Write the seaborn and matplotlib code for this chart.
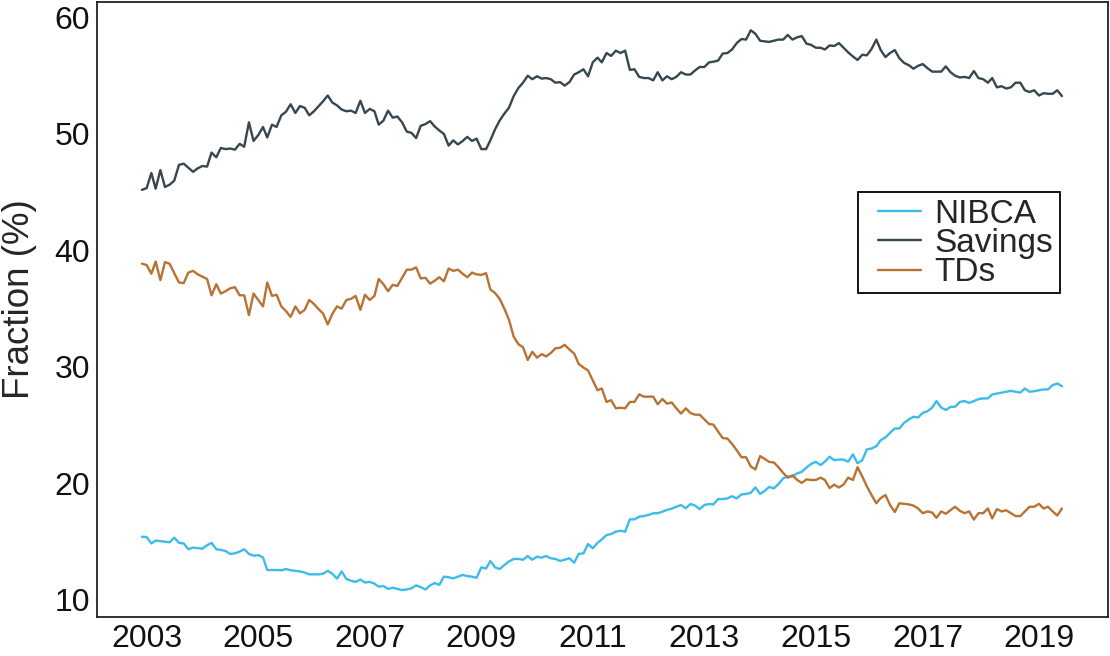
"""
NIBCA / Savings / TDs 비중 추이 (월별)
"""

import pandas as pd
import matplotlib
matplotlib.use('Agg')
import matplotlib.pyplot as plt
import matplotlib.dates as mdates
from matplotlib.patches import Rectangle
import seaborn as sns

# 데이터 (2002-12 ~ 2019-06, 월별, %)
start_month = '2002-12-01'

nibca = [15.43, 15.4, 14.85, 15.1, 15.05, 15.0, 14.95, 15.35, 14.9, 14.85,
         14.35, 14.5, 14.45, 14.4, 14.7, 14.9, 14.35, 14.3, 14.2, 13.95,
         14.0, 14.15, 14.35, 13.95, 13.8, 13.85, 13.65, 12.57, 12.57, 12.57,
         12.55, 12.65, 12.55, 12.5, 12.45, 12.35, 12.2, 12.2, 12.2, 12.25,
         12.5, 12.25, 11.83, 12.45, 11.8, 11.65, 11.55, 11.75, 11.5, 11.55,
         11.4, 11.14, 11.2, 10.95, 11.05, 10.95, 10.85, 10.9, 11.0, 11.25,
         11.1, 10.9, 11.25, 11.45, 11.3, 12.0, 11.95, 11.85, 12.0, 12.15,
         12.05, 12.0, 11.9,
         12.8, 12.7, 13.34, 12.8, 12.65, 13.0, 13.3, 13.52, 13.52, 13.45,
         13.77, 13.45, 13.72, 13.63, 13.77, 13.58, 13.52, 13.35, 13.45, 13.58,
         13.2, 13.95, 14.0, 14.8, 14.43, 14.9, 15.2, 15.57, 15.66, 15.86,
         15.94, 15.86, 16.92, 16.92, 17.15, 17.2, 17.3, 17.44, 17.44, 17.58,
         17.73, 17.84, 18.0, 18.15, 17.87, 18.24, 18.1, 17.8, 18.15, 18.24,
         18.2, 18.66, 18.66, 18.72, 18.9, 18.72, 19.06, 19.1, 19.2, 19.66,
         19.1, 19.37, 19.7, 19.58, 19.95, 20.44, 20.6, 20.6, 20.87, 21.0,
         21.38, 21.67, 21.86, 21.58, 21.87, 22.3, 22.0, 22.05,
         22.05, 21.87, 22.5, 21.73, 22.0, 22.92, 23.0, 23.2, 23.72, 23.95,
         24.35, 24.72, 24.72, 25.2, 25.5, 25.72, 25.67, 26.06, 26.2, 26.52,
         27.07, 26.52, 26.3, 26.58, 26.58, 27.0, 27.07, 26.92, 27.07, 27.24,
         27.3, 27.3, 27.64, 27.72, 27.8, 27.87, 27.95, 27.87, 27.8, 28.15,
         27.87, 27.92, 28.0, 28.07, 28.07, 28.44, 28.58, 28.35]

savings = [45.2, 45.35, 46.65, 45.3, 46.9, 45.45, 45.65, 46.0, 47.35, 47.45,
           47.1, 46.75, 47.05, 47.25, 47.2, 48.4, 48.0, 48.8, 48.7, 48.75,
           48.65, 49.15, 48.9, 51.0, 49.4, 49.9, 50.6, 49.7, 50.8, 50.6,
           51.6, 51.9, 52.55, 51.8, 52.4, 52.25, 51.6, 51.95, 52.4, 52.8,
           53.3, 52.7, 52.45, 52.1, 51.95, 52.0, 51.8, 52.85, 51.8, 52.15,
           51.95, 50.8, 51.15, 52.0, 51.4, 51.5, 51.0, 50.2, 50.1, 49.65,
           50.7, 50.85, 51.1, 50.65, 50.3, 50.0, 49.0, 49.45, 49.1, 49.4,
           49.75, 49.4, 49.6,
           48.7, 48.7, 49.45, 50.4, 51.15, 51.75, 52.25, 53.25, 53.95, 54.4,
           55.0, 54.7, 54.95, 54.75, 54.8, 54.7, 54.4, 54.45, 54.15, 54.45,
           55.1, 55.3, 55.55, 54.95, 56.15, 56.55, 56.15, 56.95, 56.7, 57.15,
           56.95, 57.15, 55.5, 55.55, 54.9, 54.8, 54.8, 54.6, 55.3, 54.6,
           54.95, 54.7, 54.9, 55.3, 55.1, 55.1, 55.45, 55.75, 55.75, 56.15,
           56.2, 56.3, 56.9, 56.95, 57.25, 57.8, 58.15, 58.1, 58.9, 58.6,
           58.0, 57.95, 57.9, 58.0, 58.1, 58.1, 58.5, 58.1, 58.3, 58.4,
           57.75, 57.65, 57.4, 57.4, 57.25, 57.6, 57.55, 57.8,
           57.4, 57.0, 56.65, 56.35, 56.8, 56.75, 57.3, 58.1, 57.2, 56.6,
           56.95, 57.2, 56.5, 56.1, 55.9, 55.6, 55.85, 56.0, 55.65, 55.35,
           55.35, 55.35, 55.8, 55.3, 55.0, 54.85, 54.9, 54.8, 55.4, 54.8,
           54.7, 54.4, 54.8, 54.0, 54.1, 53.9, 54.0, 54.4, 54.4, 53.75,
           53.6, 53.75, 53.3, 53.5, 53.45, 53.45, 53.75, 53.25]

tds = [38.87, 38.75, 38.0, 39.05, 37.45, 39.0, 38.85, 38.05, 37.25, 37.2,
       38.1, 38.25, 37.95, 37.75, 37.55, 36.15, 37.1, 36.3, 36.5, 36.75,
       36.85, 36.15, 36.15, 34.45, 36.3, 35.75, 35.2, 37.25, 36.1, 36.2,
       35.2, 34.8, 34.3, 35.2, 34.6, 34.9, 35.75, 35.4, 34.95, 34.6,
       33.65, 34.55, 35.2, 35.0, 35.75, 35.85, 36.1, 34.9, 36.2, 35.75,
       36.1, 37.55, 37.1, 36.5, 37.05, 36.95, 37.65, 38.35, 38.35, 38.55,
       37.6, 37.65, 37.15, 37.4, 37.7, 37.35, 38.45, 38.25, 38.35, 38.0,
       37.7, 38.1, 37.95,
       37.9, 38.05, 36.65, 36.35, 35.85, 35.0, 34.05, 32.6, 31.95, 31.7,
       30.6, 31.3, 30.8, 31.1, 30.9, 31.2, 31.6, 31.65, 31.9, 31.5,
       31.15, 30.25, 29.95, 29.7, 28.85, 28.0, 28.15, 27.0, 27.15, 26.45,
       26.5, 26.45, 27.0, 27.0, 27.65, 27.45, 27.45, 27.45, 26.8, 27.25,
       26.85, 26.95, 26.45, 26.0, 26.45, 26.05, 25.9, 25.9, 25.5, 25.1,
       25.05, 24.45, 23.9, 23.85, 23.4, 22.85, 22.25, 22.25, 21.45, 21.2,
       22.35, 22.1, 21.85, 21.8, 21.4, 20.9, 20.5, 20.7, 20.3, 20.05,
       20.35, 20.3, 20.3, 20.5, 20.3, 19.6, 19.9, 19.65,
       19.9, 20.5, 20.3, 21.4, 20.6, 19.75, 19.0, 18.3, 18.75, 19.0,
       18.15, 17.55, 18.3, 18.25, 18.2, 18.1, 17.85, 17.45, 17.6, 17.5,
       17.05, 17.6, 17.4, 17.7, 18.0, 17.65, 17.45, 17.6, 16.9, 17.45,
       17.45, 17.85, 17.0, 17.8, 17.6, 17.7, 17.45, 17.2, 17.2, 17.6,
       18.0, 18.0, 18.25, 17.85, 18.0, 17.6, 17.25, 17.85]

series_names = ['NIBCA', 'Savings', 'TDs']
colors = ['#3dbbea', '#37474f', '#b87333']
year_ticks = [2003, 2005, 2007, 2009, 2011, 2013, 2015, 2017, 2019]

# long-form 데이터프레임
dates = pd.date_range(start_month, periods=len(savings), freq='MS')
df = pd.DataFrame({'date': dates, 'NIBCA': nibca, 'Savings': savings, 'TDs': tds})
df_long = df.melt(id_vars='date', var_name='series', value_name='value')

sns.set_style('white')
plt.rcParams['font.family'] = ['Liberation Sans', 'DejaVu Sans']

fig = plt.figure(figsize=(11.1, 6.56), dpi=100)
ax = fig.add_axes([0.0874, 0.0595, 0.9106, 0.9375])

sns.lineplot(data=df_long, x='date', y='value', hue='series',
             hue_order=series_names, palette=colors, linewidth=1.7, ax=ax)

ax.set_xlim(pd.Timestamp('2002-02-10'), pd.Timestamp('2020-03-27'))
ax.set_ylim(8.54, 61.33)
ax.set_xticks([pd.Timestamp(f'{y}-01-01') for y in year_ticks])
ax.xaxis.set_major_formatter(mdates.DateFormatter('%Y'))
ax.set_yticks([10, 20, 30, 40, 50, 60])
ax.tick_params(axis='both', labelsize=23, length=0, pad=5, colors='#111111')

ax.set_xlabel('')
ax.set_ylabel('Fraction (%)', fontsize=26.5)
ax.yaxis.set_label_coords(-0.059, 0.517)

for sp in ax.spines.values():
    sp.set_visible(True)
    sp.set_color('#222222')
    sp.set_linewidth(1.3)

# 범례 (테두리는 왼쪽 여백을 넓게 따로 그림)
leg = ax.legend(loc='upper right', bbox_to_anchor=(0.9525, 0.691),
                fontsize=24, frameon=False,
                handlelength=1.3, handletextpad=0.4, labelspacing=-0.05,
                borderpad=0.2, borderaxespad=0)
for line in leg.get_lines():
    line.set_linewidth(1.7)
ax.add_patch(Rectangle((0.7527, 0.5268), 0.1998, 0.1642, transform=ax.transAxes,
                       fill=False, edgecolor='black', linewidth=1.3, zorder=5))

fig.savefig('out.png', dpi=100)
